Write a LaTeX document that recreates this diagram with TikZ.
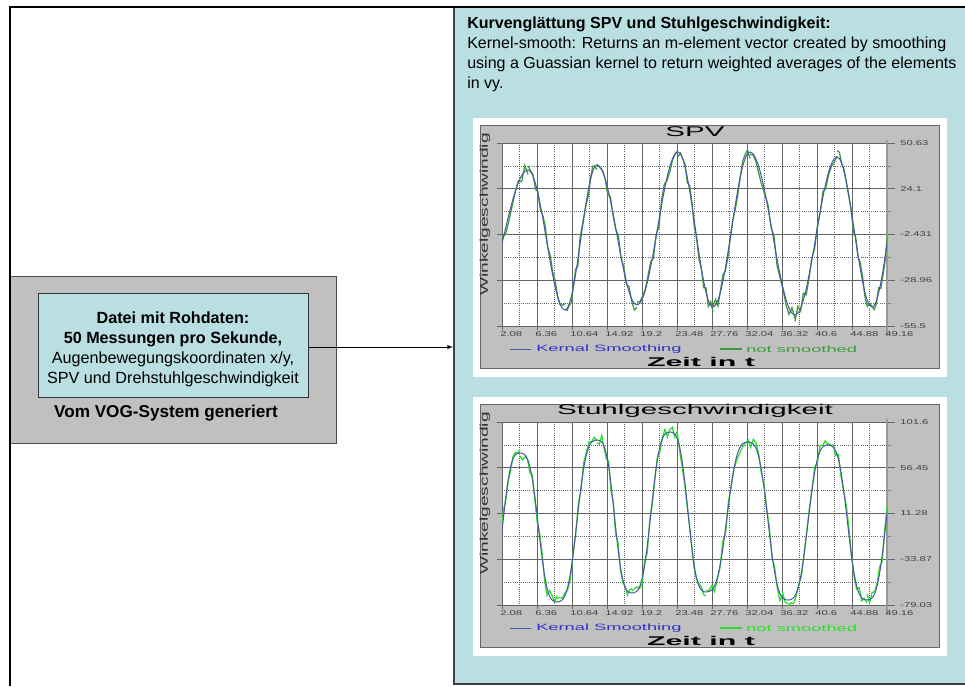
\documentclass[tikz,border=0pt]{standalone}
\usepackage{fontspec}
\setmainfont{Liberation Sans}
\usepackage{tikz}
\usetikzlibrary{positioning}

\definecolor{panelcyan}{RGB}{185,223,226}
\definecolor{boxgray}{RGB}{192,192,192}
\definecolor{gridgray}{RGB}{100,100,100}
\definecolor{smoothblue}{RGB}{75,85,165}
\definecolor{legendblue}{RGB}{50,50,200}
\definecolor{rawdark}{RGB}{60,155,60}
\definecolor{rawbright}{RGB}{40,225,40}

% one chart: shift, title, right labels, wave segments, raw colour, flatness
\newcommand{\wavechart}[6]{%
  \begin{scope}[shift={(0,#1)}]
    % white frame and grey chart field
    \fill[white] (473,118) rectangle (947,377);
    \filldraw[fill=boxgray, draw=black!60] (480,125) rectangle (939,368);
    \fill[white] (502,143) rectangle (887,326);
    % grid
    \foreach \k in {0,...,10}
      \draw[gridline, densely dotted] ({519.5+35*\k},143) -- ({519.5+35*\k},326);
    \foreach \k in {0,...,3}
      \draw[gridline, densely dotted] (502,{166+45.75*\k}) -- (891,{166+45.75*\k});
    \foreach \k in {0,...,10}
      \draw[gridline] ({502+35*\k},143) -- ({502+35*\k},330);
    \foreach \k in {0,...,4}
      \draw[gridline] (497,{143+45.75*\k}) -- (895,{143+45.75*\k});
    \draw[line width=1.6pt, black!40] (887,140) -- (887,336);
    % curves
    \begin{scope}
      \clip (502,143) rectangle (887,326);
      \draw[rawline, #5] \foreach \xa/\ya/\xb/\yb in {#4} {
        plot[domain=\xa:\xb, samples=16] (\x, {wave(180*(\x-\xa)/(\xb-\xa),\ya,\yb,#6)+7*rand}) };
      \draw[smoothline] \foreach \xa/\ya/\xb/\yb in {#4} {
        plot[domain=\xa:\xb, samples=16, smooth] (\x, {wave(180*(\x-\xa)/(\xb-\xa),\ya,\yb,#6)}) };
    \end{scope}
    % axis texts
    \node[charttitle] at (695,132) {\scalebox{2.1}[1]{#2}};
    \node[yname, rotate=90, anchor=west] at (485,296) {\scalebox{1.7}[1]{Winkelgeschwindig}};
    \foreach \lab [count=\i from 0] in {#3}
      \node[ticklabel, anchor=west] at (900,{143+45.75*\i}) {\scalebox{1.6}[1]{\lab}};
    \foreach \lab [count=\i from 0] in {2.08,6.36,10.64,14.92,19.2,23.48,27.76,32.04,36.32,40.6,44.88,49.16}
      \node[ticklabel, anchor=west] at ({500+35*\i},334) {\scalebox{1.6}[1]{\lab}};
    % legend
    \draw[smoothline] (510,349) -- (531,349);
    \node[legendtext, text=legendblue] at (536,349) {\scalebox{2}[1]{Kernal Smoothing}};
    \draw[rawline, #5] (720,349) -- (742,349);
    \node[legendtext, text=#5] at (746,349) {\scalebox{2}[1]{not smoothed}};
    \node[axisname] at (701,362) {\scalebox{2.4}[1]{Zeit in t}};
  \end{scope}}

\begin{document}
\pgfmathsetseed{12}
\begin{tikzpicture}[x=.025cm, y=-.025cm,
    gridline/.style={gridgray, line width=.5pt},
    rawline/.style={line width=.9pt},
    smoothline/.style={smoothblue, line width=.7pt},
    ticklabel/.style={font=\fontsize{5}{6}\selectfont, text=black!75, inner sep=0pt},
    legendtext/.style={font=\fontsize{6.5}{8}\selectfont, anchor=west, inner sep=0pt},
    charttitle/.style={font=\fontsize{10}{12}\selectfont, inner sep=0pt},
    axisname/.style={font=\bfseries\fontsize{9}{11}\selectfont, inner sep=0pt},
    yname/.style={font=\fontsize{8}{9}\selectfont, text=black!80, inner sep=0pt},
    rawbox/.style={draw=black!80, fill=panelcyan, minimum width=6.75cm, minimum height=2.6cm,
      align=center, inner sep=0pt, font=\fontsize{11.5}{14.2}\selectfont},
    declare function={wave(\t,\p,\q,\f)=(\p+\q)/2+(\p-\q)/2*(\f*cos(\t)-(\f-1)*cos(\t)*cos(\t)*cos(\t));}]
    \useasboundingbox (0,0) rectangle (965,686);

    % right panel with kernel smoothing
    \fill[panelcyan] (453,8) rectangle (965,684);
    \draw[black!75, line width=1.4pt] (454,8) -- (454,684) -- (965,684);
    \node[anchor=north west, align=left, inner sep=0pt, font=\fontsize{11.4}{14.2}\selectfont] (kerninfo) at (467,17)
      {\textbf{Kurvenglättung SPV und Stuhlgeschwindigkeit:}\\
       Kernel-smooth: Returns an m-element vector created by smoothing\\
       using a Guassian kernel to return weighted averages of the elements\\
       in vy.};
    \coordinate (panelin) at (453,347);

    % charts
    \wavechart{0}{SPV}{50.63,24.1,-2.431,-28.96,-55.5}
      {480/300/528/170, 528/170/565/310, 565/310/597/165, 597/165/637/305, 637/305/678/152, 678/152/713/307,
       713/307/750/152, 750/152/795/315, 795/315/837/157, 837/157/872/307, 872/307/905/160}{rawdark}{1}
    \wavechart{279}{Stuhlgeschwindigkeit}{101.6,56.45,11.28,-33.87,-79.03}
      {485/321/520/174, 520/174/557/323, 557/323/597/161, 597/161/632/314, 632/314/670/153, 670/153/706/313,
       706/313/748/163, 748/163/788/321, 788/321/828/166, 828/166/867/321, 867/321/905/166}{rawbright}{1.4}

    % left: raw data box
    \filldraw[fill=boxgray, draw=black!70] (10,276) rectangle (336,443);
    \node[rawbox] (rohdaten) at (173,345)
      {\rule{0pt}{14pt}\textbf{Datei mit Rohdaten:}\\ \textbf{50 Messungen pro Sekunde,}\\
       Augenbewegungskoordinaten x/y,\\ SPV und Drehstuhlgeschwindigkeit};
    \node[font=\bfseries\fontsize{12.2}{14}\selectfont] (vog) at (166,413) {Vom VOG-System generiert};
    \draw[-latex] (rohdaten.east |- panelin) -- (panelin);

    % outer frame
    \draw[line width=2pt] (10,686) -- (10,7) -- (965,7);
\end{tikzpicture}
\end{document}
